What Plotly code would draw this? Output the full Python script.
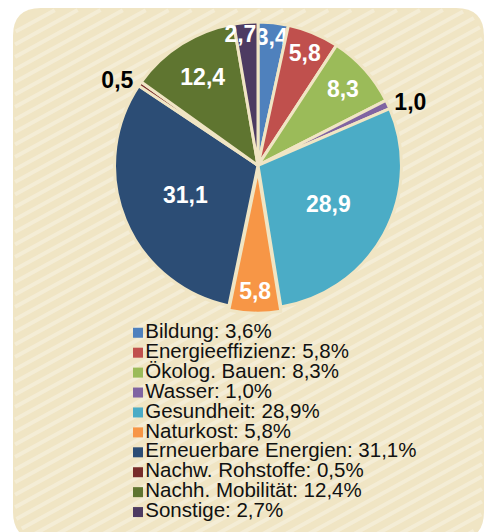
import plotly.graph_objects as go
import numpy as np

# ---------------- data ----------------
categories = ["Bildung", "Energieeffizienz", "Ökolog. Bauen", "Wasser", "Gesundheit",
              "Naturkost", "Erneuerbare Energien", "Nachw. Rohstoffe", "Nachh. Mobilität", "Sonstige"]
slice_values = [3.4, 5.8, 8.3, 1.0, 28.9, 5.8, 31.1, 0.5, 12.4, 2.7]
legend_percent = [3.6, 5.8, 8.3, 1.0, 28.9, 5.8, 31.1, 0.5, 12.4, 2.7]
colors = ["#4F81BD", "#C0504D", "#9BBB59", "#8064A2", "#4BACC6",
          "#F79646", "#2C4D75", "#772C2A", "#5F7530", "#4D3B62"]

# the page body has an 8px margin: work in page pixels, convert to figure paper coords
OFF = 8
W, H = 492 - OFF, 532 - OFF
BG = "#F0E5C4"


def de(v):
    return f"{v:.1f}".replace(".", ",")


def px(x):
    return (x - OFF) / W


def py(y):
    return 1 - (y - OFF) / H


slice_text = [de(v) for v in slice_values]
slice_text[-1] = slice_text[-1] + "\u00a0\u00a0"
small = [v < 2 for v in slice_values]
text_pos = ["outside" if s else "inside" for s in small]
text_col = ["#000000" if s else "#FFFFFF" for s in small]
pulls = [0.03 if c == "Naturkost" else 0 for c in categories]

legend_text = [f"{c}: {de(p)}%" for c, p in zip(categories, legend_percent)]

fig = go.Figure()

# pie geometry (page pixels)
cx, cy, R = 258, 164, 144
half = R * (1 + max(pulls))
fig.add_trace(go.Pie(
    labels=categories, values=slice_values, text=slice_text, textinfo="text",
    sort=False, direction="clockwise", rotation=0,
    marker=dict(colors=colors, line=dict(color=BG, width=3)),
    textposition=text_pos,
    textfont=dict(color=text_col, size=23, family="Liberation Sans, Arial", weight="bold"),
    insidetextorientation="horizontal",
    pull=pulls, showlegend=False, hoverinfo="label+value",
    domain=dict(x=[px(cx - half), px(cx + half)], y=[py(cy + half), py(cy - half)]),
))

# legend drawn as a marker/text column
fig.add_trace(go.Scatter(
    x=[0] * len(categories), y=list(range(len(categories))),
    mode="markers+text", text=legend_text, textposition="middle right",
    marker=dict(symbol="square", size=10, color=colors),
    textfont=dict(size=20.5, family="Liberation Sans, Arial", color="#111111"),
    showlegend=False, hoverinfo="skip", cliponaxis=False,
))

# background rounded rectangle
x0, x1, y0, y1, r = 13, 484, 6, 540, 28


def P(x, y):
    return f"{px(x):.5f},{py(y):.5f}"


path = (f"M {P(x0 + r, y0)} L {P(x1 - r, y0)} Q {P(x1, y0)} {P(x1, y0 + r)} "
        f"L {P(x1, y1 - r)} Q {P(x1, y1)} {P(x1 - r, y1)} L {P(x0 + r, y1)} "
        f"Q {P(x0, y1)} {P(x0, y1 - r)} L {P(x0, y0 + r)} Q {P(x0, y0)} {P(x0 + r, y0)} Z")
shapes = [dict(type="path", path=path, xref="paper", yref="paper",
               fillcolor=BG, line=dict(width=0), layer="below")]


def inside(x, y):
    qx = min(max(x, x0 + r), x1 - r)
    qy = min(max(y, y0 + r), y1 - r)
    return (x - qx) ** 2 + (y - qy) ** 2 <= (r - 2) ** 2


# diagonal light stripes clipped to the rounded rectangle
s = 0.55
step = 11 * np.sqrt(1 + s * s)
c = y0 + s * x0
while c < y1 + s * x1:
    xs = np.linspace(x0, x1, 700)
    ys = c - s * xs
    idx = [i for i, (a, b) in enumerate(zip(xs, ys)) if inside(a, b)]
    if len(idx) > 2:
        i0, i1 = idx[0], idx[-1]
        shapes.append(dict(type="line", xref="paper", yref="paper",
                           x0=px(xs[i0]), y0=py(ys[i0]), x1=px(xs[i1]), y1=py(ys[i1]),
                           line=dict(color="rgba(255,255,255,0.3)", width=4), layer="below"))
    c += step

fig.update_layout(
    width=W, height=H, margin=dict(l=0, r=0, t=0, b=0),
    paper_bgcolor="#FFFFFF", plot_bgcolor="rgba(0,0,0,0)",
    shapes=shapes,
    uniformtext=dict(minsize=23, mode="show"),
    xaxis=dict(visible=False, domain=[px(138), 1], range=[0, 1], fixedrange=True),
    yaxis=dict(visible=False, domain=[py(522), py(322)], range=[9.5, -0.5], fixedrange=True),
)

fig.write_html("out.html")
